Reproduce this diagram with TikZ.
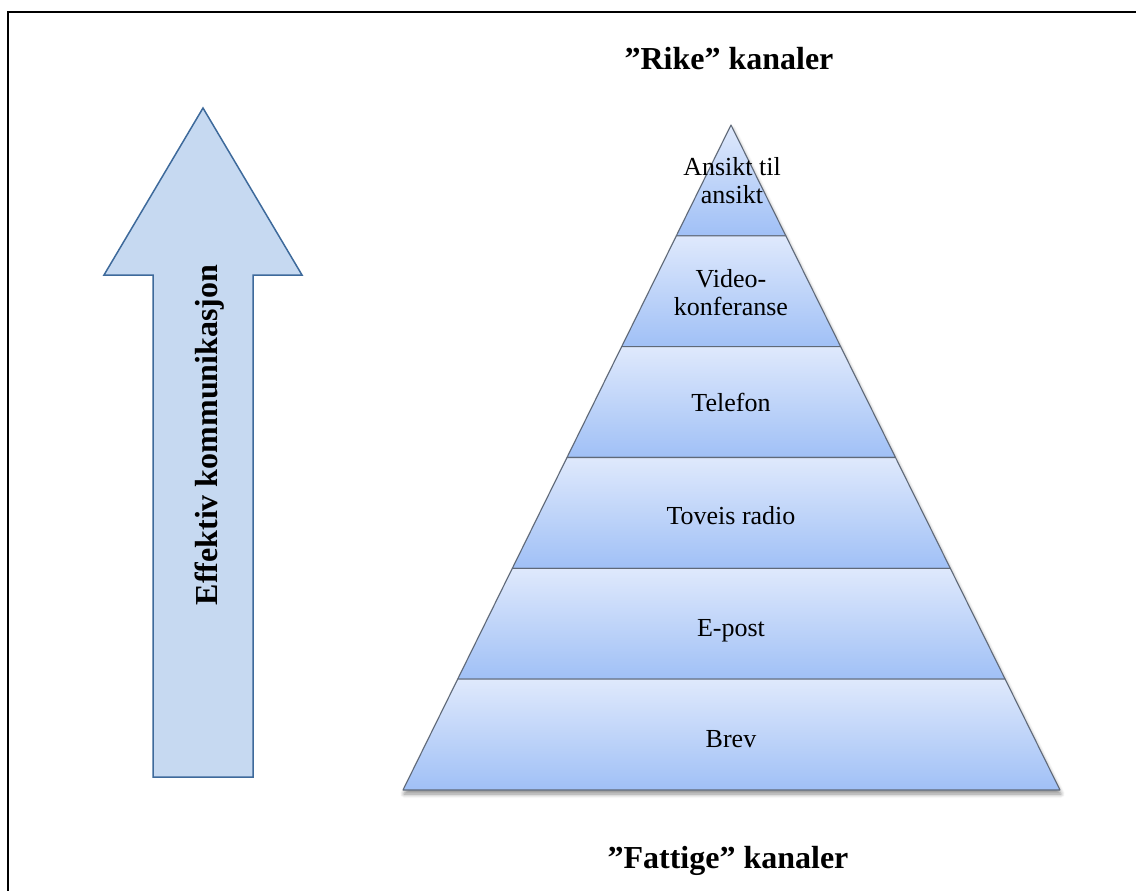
\documentclass[tikz,border=0pt]{standalone}
\usepackage{fontspec}
\setmainfont{Liberation Serif}
\usetikzlibrary{calc,shadows.blur}

\definecolor{arrowfill}{RGB}{198,217,241}
\definecolor{arrowline}{RGB}{62,106,155}
\definecolor{bandtop}{RGB}{223,233,252}
\definecolor{bandmid}{RGB}{196,214,249}
\definecolor{bandbot}{RGB}{160,192,246}
\definecolor{bandline}{RGB}{95,105,120}

\tikzset{
  frameline/.style={line width=2pt, black},
  bigarrow/.style={fill=arrowfill, draw=arrowline, line width=1.5pt, line join=miter},
  band/.style={top color=bandtop, middle color=bandmid, bottom color=bandbot},
  bandedge/.style={draw=bandline, line width=1.1pt, line join=round},
  bandlabel/.style={font=\fontsize{26}{28}\selectfont, align=center, inner sep=0pt},
  heading/.style={font=\bfseries\fontsize{32}{36}\selectfont, inner sep=0pt},
}

\begin{document}
\begin{tikzpicture}[x=1pt, y=-1pt]
  \useasboundingbox (0,0) rectangle (1136,891);

  % page frame (left and top rules)
  \coordinate (fbl) at (8,891);
  \coordinate (ftl) at (8,12);
  \coordinate (ftr) at (1136,12);
  \draw[frameline] (fbl) -- (ftl) -- (ftr);

  % upward arrow
  \draw[bigarrow] (203,108) -- (302,275) -- (253,275) -- (253,777)
    -- (153,777) -- (153,275) -- (104,275) -- cycle;
  \node[heading, rotate=90, anchor=base] (eff) at (217,435) {Effektiv kommunikasjon};

  % pyramid corners
  \coordinate (apex) at (731,125);
  \coordinate (bl) at (403,790);
  \coordinate (br) at (1060,790);

  % soft shadow under the whole pyramid
  \fill[white, blur shadow={shadow xshift=1pt, shadow yshift=-4pt, shadow blur steps=6, shadow blur radius=4pt, shadow opacity=45}]
    (apex) -- (br) -- (bl) -- cycle;

  % six bands, split at equal heights
  \foreach \k in {0,...,5}{
    \pgfmathsetmacro{\ta}{\k/6}
    \pgfmathsetmacro{\tb}{(\k+1)/6}
    \shade[band] ($(apex)!\ta!(bl)$) -- ($(apex)!\tb!(bl)$) -- ($(apex)!\tb!(br)$) -- ($(apex)!\ta!(br)$) -- cycle;
    \draw[bandedge] ($(apex)!\ta!(bl)$) -- ($(apex)!\tb!(bl)$) -- ($(apex)!\tb!(br)$) -- ($(apex)!\ta!(br)$) -- cycle;
  }

  % band labels
  \node[bandlabel] (l1) at (732,181) {Ansikt til\\ansikt};
  \node[bandlabel] (l2) at (731,293) {Video-\\konferanse};
  \node[bandlabel, anchor=base] (l3) at (731,411) {Telefon};
  \node[bandlabel, anchor=base] (l4) at (731,524) {Toveis radio};
  \node[bandlabel, anchor=base] (l5) at (731,636) {E-post};
  \node[bandlabel, anchor=base] (l6) at (731,747) {Brev};

  % headings
  \node[heading, anchor=base] (rike) at (729,70) {”Rike” kanaler};
  \node[heading, anchor=base] (fattige) at (728,868) {”Fattige” kanaler};
\end{tikzpicture}
\end{document}
